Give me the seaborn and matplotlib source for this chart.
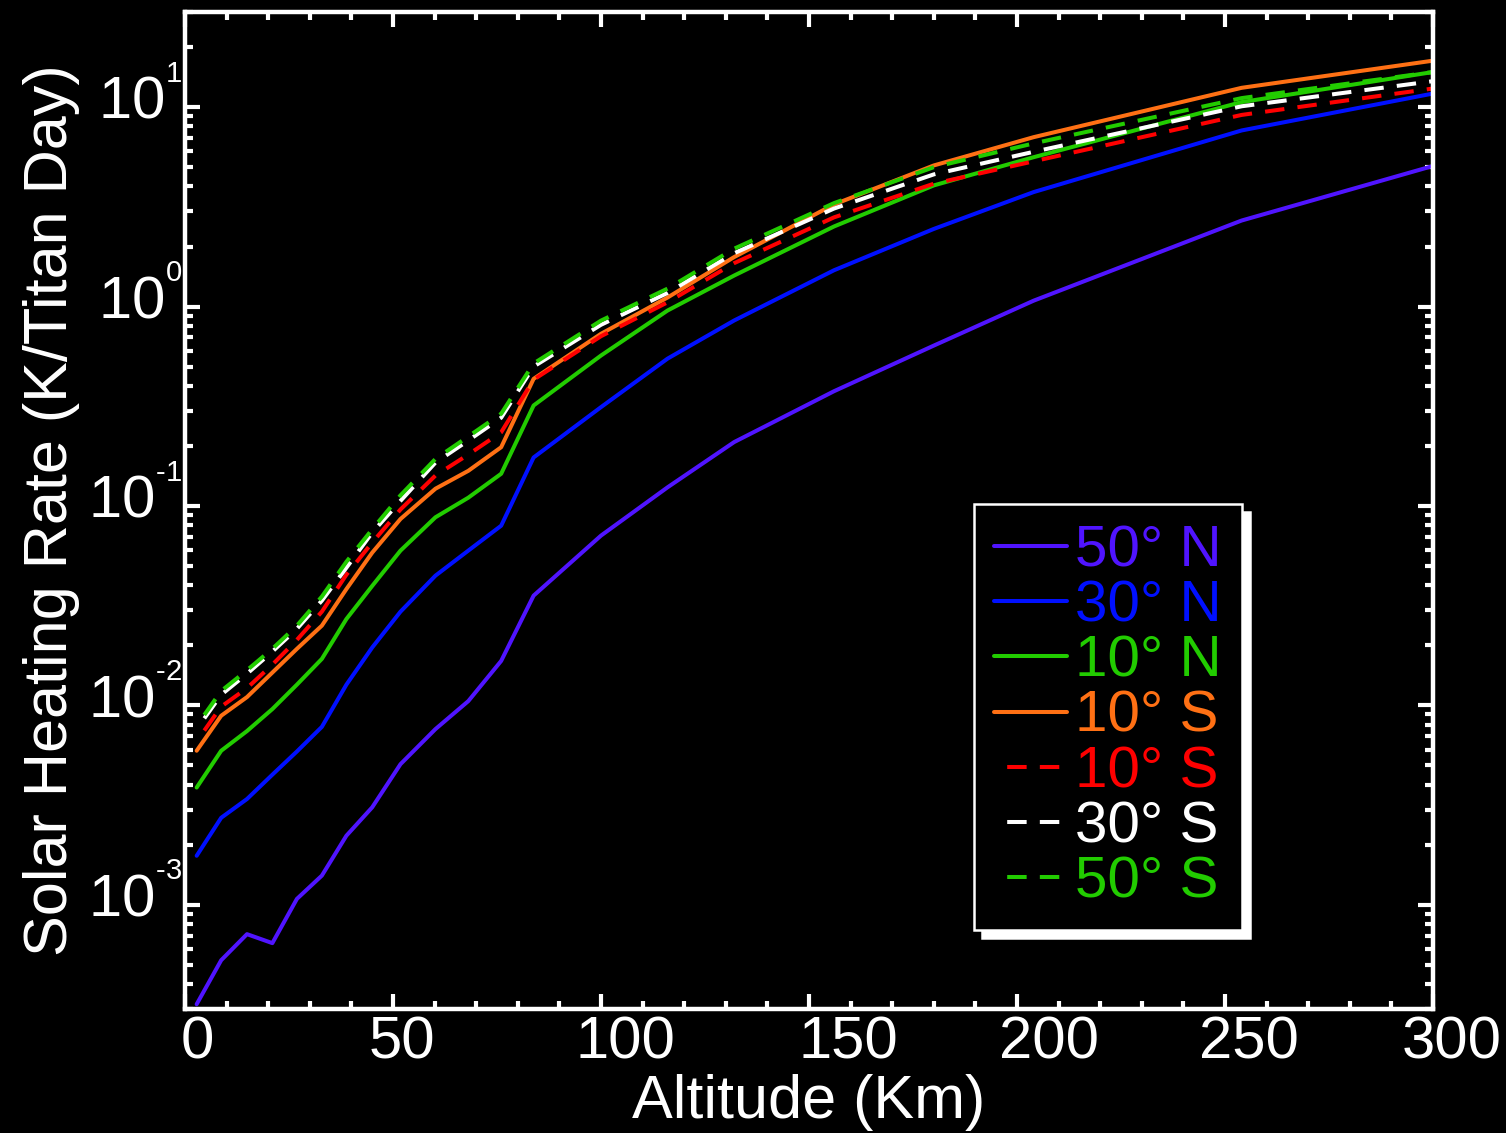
import numpy as np
import pandas as pd
import matplotlib
matplotlib.use("Agg")
import matplotlib.pyplot as plt
import seaborn as sns
from matplotlib.ticker import FixedLocator, MultipleLocator, LogLocator, NullFormatter, FixedFormatter
from matplotlib.transforms import ScaledTranslation

# ---------------- data ----------------
altitude_km = [2.8, 8.7, 14.9, 21.0, 26.9, 32.9, 38.8, 45.0, 51.8, 60.2, 68.1,
               76.0, 83.8, 100.0, 116.0, 132.0, 156.0, 180.0, 204.0, 254.0, 300.0]

rate_50N = [3.17e-4, 5.27e-4, 7.12e-4, 6.42e-4, 1.07e-3, 1.40e-3, 2.22e-3, 3.08e-3,
            5.07e-3, 7.6e-3, 1.05e-2, 1.67e-2, 3.55e-2, 7.1e-2, 0.124, 0.209,
            0.376, 0.637, 1.07, 2.70, 5.07]
rate_30N = [1.76e-3, 2.73e-3, 3.39e-3, 4.49e-3, 5.87e-3, 7.8e-3, 1.27e-2, 1.95e-2,
            2.95e-2, 4.47e-2, 5.97e-2, 7.96e-2, 0.175, 0.313, 0.548, 0.851,
            1.52, 2.45, 3.75, 7.64, 11.7]
rate_10N = [3.87e-3, 5.92e-3, 7.43e-3, 9.58e-3, 1.27e-2, 1.71e-2, 2.71e-2, 3.97e-2,
            5.97e-2, 8.77e-2, 0.110, 0.145, 0.319, 0.568, 0.955, 1.43,
            2.52, 4.05, 5.61, 10.6, 15.0]
rate_10S = [5.92e-3, 8.87e-3, 1.10e-2, 1.46e-2, 1.92e-2, 2.51e-2, 3.83e-2, 5.83e-2,
            8.6e-2, 0.122, 0.150, 0.197, 0.434, 0.73, 1.11, 1.77,
            3.25, 5.10, 7.07, 12.5, 17.1]
rate_10S_dash = [6.6e-3, 9.85e-3, 1.22e-2, 1.60e-2, 2.13e-2, 2.95e-2, 4.52e-2, 6.55e-2,
                 9.6e-2, 0.142, 0.181, 0.234, 0.43, 0.71, 1.05, 1.65,
                 2.8, 4.13, 5.35, 9.14, 12.4]
rate_30S = [7.6e-3, 1.13e-2, 1.44e-2, 1.86e-2, 2.42e-2, 3.35e-2, 4.9e-2, 7.35e-2,
            0.106, 0.165, 0.213, 0.277, 0.50, 0.81, 1.17, 1.85,
            3.1, 4.6, 5.97, 10.1, 13.5]
rate_50S = [7.9e-3, 1.18e-2, 1.50e-2, 1.92e-2, 2.51e-2, 3.51e-2, 5.25e-2, 7.63e-2,
            0.113, 0.172, 0.223, 0.290, 0.518, 0.85, 1.23, 1.95,
            3.3, 5.0, 6.58, 11.1, 15.0]

series_labels = ["50° N", "30° N", "10° N", "10° S", "10° S", "30° S", "50° S"]
series_values = [rate_50N, rate_30N, rate_10N, rate_10S, rate_10S_dash, rate_30S, rate_50S]
series_colors = ["#5014FF", "#0010FF", "#22CC00", "#FF7014", "#FF0000", "#FFFFFF", "#22CC00"]
series_dashed = [False, False, False, False, True, True, True]

xticks_major = [0, 50, 100, 150, 200, 250, 300]
xtick_labels = ["0", "50", "100", "150", "200", "250", "300"]
yticks_major = [1e-3, 1e-2, 1e-1, 1e0, 1e1]
ytick_labels = ["$10^{{}^{\u20103}}$", "$10^{{}^{\u20102}}$",
                "$10^{{}^{\u20101}}$", "$10^{{}^{0}}$", "$10^{{}^{1}}$"]

# ---------------- style ----------------
sns.set_style("ticks")
plt.rcParams.update({
    "font.family": ["Liberation Sans", "DejaVu Sans"],
    "mathtext.fontset": "custom",
    "mathtext.rm": "Liberation Sans",
    "mathtext.it": "Liberation Sans:italic",
    "mathtext.bf": "Liberation Sans:bold",
    "mathtext.default": "regular",
    "figure.facecolor": "black",
    "axes.facecolor": "black",
    "savefig.facecolor": "black",
    "text.color": "white",
    "axes.labelcolor": "white",
    "xtick.color": "white",
    "ytick.color": "white",
    "axes.edgecolor": "white",
    "lines.scale_dashes": False,
})

W, H = 1506, 1133
fig = plt.figure(figsize=(W / 100, H / 100), dpi=100)
ax = fig.add_axes([185 / W, 1 - 1009 / H, (1433 - 185) / W, (1009 - 12) / H])

lw = 2.9
dash_style = (14.0, (14.0, 9.5))

for lab, vals, col, dashed in zip(series_labels, series_values, series_colors, series_dashed):
    df = pd.DataFrame({"alt": altitude_km, "rate": vals})
    sns.lineplot(data=df, x="alt", y="rate", color=col, ax=ax, linewidth=lw,
                 linestyle=dash_style if dashed else "-", label=lab, legend=False,
                 sort=False)

for ln in ax.lines:
    ln.set_solid_joinstyle("round")
    ln.set_dash_capstyle("butt")

ax.set_yscale("log")
ax.set_xlim(0, 300)
ax.set_ylim(3e-4, 30)

for sp in ax.spines.values():
    sp.set_linewidth(3.2)
    sp.set_color("white")

ax.xaxis.set_major_locator(FixedLocator(xticks_major))
ax.xaxis.set_major_formatter(FixedFormatter(xtick_labels))
ax.xaxis.set_minor_locator(MultipleLocator(10))
ax.yaxis.set_major_locator(FixedLocator(yticks_major))
ax.yaxis.set_major_formatter(FixedFormatter(ytick_labels))
ax.yaxis.set_minor_locator(LogLocator(base=10, subs=np.arange(2, 10)))
ax.yaxis.set_minor_formatter(NullFormatter())

ax.tick_params(which="both", direction="in", top=True, right=True, width=3.0,
               colors="white")
ax.tick_params(which="major", length=10.5)
ax.tick_params(which="minor", length=5.5)
ax.tick_params(axis="x", which="major", labelsize=43, pad=5)
ax.tick_params(axis="y", which="major", labelsize=43, pad=2)

ax.set_xlabel("Altitude (Km)", fontsize=44, labelpad=2)
ax.set_ylabel("Solar Heating Rate (K/Titan Day)", fontsize=44, labelpad=6)

handles = list(ax.lines)
leg = ax.legend(handles, series_labels, loc="upper left", bbox_to_anchor=(0.632, 0.5065),
                borderaxespad=0, fontsize=42, labelcolor="linecolor",
                handlelength=1.25, handletextpad=0.13, labelspacing=0.02,
                borderpad=0.35, frameon=True, fancybox=False, framealpha=1,
                facecolor="black", edgecolor="white",
                shadow={"ox": 6, "oy": -6, "facecolor": "white",
                        "edgecolor": "white", "alpha": 1})
leg.get_frame().set_linewidth(1.8)

# tick-label placement tweaks to match the reference (pixel offsets)
fig.canvas.draw()
x_label_shift_px = [12, 9, 24, 39, 32, 24, 19]
for tick, dx in zip(ax.xaxis.get_major_ticks(), x_label_shift_px):
    tick.label1.set_transform(tick.label1.get_transform() +
                              ScaledTranslation(dx / 100, 0, fig.dpi_scale_trans))
for tick in ax.yaxis.get_major_ticks():
    tick.label1.set_transform(tick.label1.get_transform() +
                              ScaledTranslation(0, 13 / 100, fig.dpi_scale_trans))

fig.savefig("out.png", dpi=100)
